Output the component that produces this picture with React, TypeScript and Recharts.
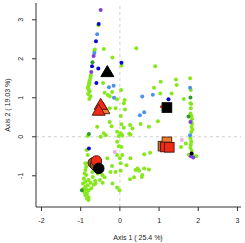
import React from 'react';
import { ScatterChart, Scatter, XAxis, YAxis, ReferenceLine } from 'recharts';

type P = { x: number; y: number };
const pts = (a: number[][]): P[] => a.map(([x, y]) => ({ x, y }));

const greenPts = pts([
  [-0.55, 2.86], [-0.64, 2.24], [-0.65, 2.2], [-0.41, 2.25], [-0.19, 2.03], [0.42, 2.27], [0.04, 1.83],
  [-0.74, 1.58], [-0.75, 1.52], [-0.77, 1.45], [-0.78, 1.4], [-0.79, 1.35], [-0.8, 1.3], [-0.82, 1.25],
  [-0.79, 1.2], [-0.77, 1.16], [-0.81, 1.1], [-0.75, 1.04], [-0.78, 0.97],
  [-0.43, 1.38], [-0.39, 1.13], [-0.2, 1.15], [0.03, 1.2], [-0.31, 1.07], [-0.26, 1.04], [-0.07, 0.96],
  [0.12, 0.94], [0.1, 0.86], [0.13, 0.7], [-0.11, 0.73], [-0.26, 0.73], [0.02, 0.53], [-0.63, 0.62],
  [-0.58, 0.26], [-0.26, 0.38], [-0.21, 0.27], [0.04, 0.32], [0.1, 0.23], [0.26, 0.3], [0.32, 0.21],
  [0.53, 0.33], [0.74, 0.26], [0.97, 0.4],
  [-0.82, 0.02], [-0.41, 0.09], [-0.36, 0.04], [-0.49, 0.0], [-0.07, 0.13], [0.02, 0.09], [-0.03, 0.02],
  [0.06, 0.03], [0.24, 0.08], [0.27, 0.05], [-0.07, -0.13], [-0.03, -0.24], [0.04, -0.26],
  [-0.07, -0.47], [0.06, -0.47], [0.0, -0.55], [-0.32, -0.55], [-0.2, -0.75], [0.02, -0.68], [0.17, -0.73],
  [0.27, -0.55], [-0.24, -0.9], [-0.11, -0.9], [0.02, -0.87],
  [-0.45, -0.98], [-0.39, -1.04], [-0.51, -1.11], [-0.44, -1.18], [-0.19, -1.2], [-0.07, -1.3], [-0.01, -1.37],
  [0.45, -0.81], [0.49, -0.87], [0.4, -0.85], [0.57, -0.98], [0.62, -0.81], [0.74, -0.84], [0.26, -1.09],
  [0.36, -1.04], [0.56, -1.03], [0.77, -0.41], [0.62, -0.45],
  [0.9, 1.81], [1.04, 1.41], [1.43, 1.47], [1.45, 1.33], [0.87, 1.26], [1.03, 1.11], [1.32, 1.11],
  [1.63, 0.97], [1.79, 1.5], [1.81, 1.2],
  [1.8, 0.86], [1.82, 0.84], [1.81, 0.73], [1.8, 0.6], [1.83, 0.53], [1.84, 0.45], [1.82, 0.4],
  [1.84, 0.33], [1.83, 0.25], [1.85, 0.18], [1.82, 0.12], [1.8, -0.04], [1.82, -0.12], [1.81, -0.2],
  [1.8, -0.28], [1.83, -0.36], [1.76, -0.46], [1.86, -0.47], [1.95, -0.5], [1.56, -0.26], [1.68, -0.17],
  [-0.85, -0.34], [-0.82, -0.47],
  [-0.88, -0.68], [-0.86, -0.77], [-0.88, -0.85], [-0.9, -0.94], [-0.86, -0.98], [-0.92, -1.07],
  [-0.88, -1.15], [-0.8, -1.11], [-0.94, -1.2], [-0.82, -1.24], [-0.88, -1.28], [-0.92, -1.33],
  [-0.85, -1.35], [-0.8, -1.38], [-0.9, -1.42], [-0.84, -1.46], [-0.88, -1.5], [-0.8, -1.55],
  [-0.84, -1.58], [-0.8, -1.62], [-0.73, -1.32], [-0.67, -1.23], [-0.75, -1.18], [-0.63, -1.13],
  [-0.69, -1.03], [-0.57, -0.94], [-0.62, -1.2], [-0.7, -0.9],
]);
const darkGreenPts = pts([[-0.7, 1.91], [-0.79, 0.07], [-0.97, -1.37], [1.8, 1.01], [1.75, 0.52]]);
const lightBluePts = pts([
  [-0.58, 2.63], [-0.65, 2.15], [-0.28, 1.27], [-0.16, 1.31], [-0.15, 1.0], [0.57, 1.03], [0.84, 1.08],
  [0.62, 0.63], [0.51, 0.55], [1.79, 1.26], [1.79, 0.04],
]);
const bluePts = pts([
  [-0.54, 2.89], [-0.61, 2.45], [-0.71, 1.81], [-0.55, 1.75], [0.04, 1.9], [-0.6, 1.38], [1.24, 0.96], [-0.79, -0.3],
]);
const purplePts = pts([[-0.49, 3.25], [-0.67, 2.07], [-0.73, 1.66], [1.8, 0.38], [1.81, -0.5], [1.87, -0.53]]);
const pinkPts = pts([[-0.13, -0.39], [1.58, -0.08]]);
const blackSmallPts = pts([[1.83, -0.43]]);
const redSmallPts = pts([[1.06, 0.77]]);

const orangeTriPts = pts([[-0.42, 0.7]]);
const redTriPts = pts([[-0.49, 0.81], [-0.54, 0.66]]);
const blackTriPts = pts([[-0.32, 1.65]]);
const tanSqPts = pts([[1.1, -0.24]]);
const orangeSqPts = pts([[1.2, -0.13]]);
const redSqPts = pts([[1.16, -0.26], [1.26, -0.27]]);
const blackSqPts = pts([[1.2, 0.75]]);
const brownCirPts = pts([[-0.68, -0.67], [-0.62, -0.73]]);
const redCirPts = pts([[-0.6, -0.62]]);
const blackCirPts = pts([[-0.54, -0.81]]);

const xTicks = [-2, -1, 0, 1, 2, 3];
const yTicks = [-1, 0, 1, 2, 3];
const xTitle = 'Axis 1 ( 25.4 %)';
const yTitle = 'Axis 2 ( 19.03 %)';

const FONT = '"Liberation Sans", Arial, sans-serif';

const dot = (color: string, r = 2) => (p: any) => <circle cx={p.cx} cy={p.cy} r={r} fill={color} />;
const tri = (fill: string, stroke: string) => (p: any) => {
  const w = 6.5, h = 11;
  return (
    <polygon
      points={`${p.cx},${p.cy - h * 0.62} ${p.cx - w},${p.cy + h * 0.38} ${p.cx + w},${p.cy + h * 0.38}`}
      fill={fill} stroke={stroke} strokeWidth={1}
    />
  );
};
const sq = (fill: string, stroke: string) => (p: any) => (
  <rect x={p.cx - 4.8} y={p.cy - 4.8} width={9.6} height={9.6} fill={fill} stroke={stroke} strokeWidth={1} />
);
const cir = (fill: string, stroke: string) => (p: any) => (
  <circle cx={p.cx} cy={p.cy} r={5.3} fill={fill} stroke={stroke} strokeWidth={1} />
);

const XTick = (p: any) => (
  <text x={p.x} y={220} textAnchor="middle" dominantBaseline="central" fontSize={7} fontFamily={FONT} fill="#222">
    {p.payload.value < 0 ? '-' + Math.abs(p.payload.value) : p.payload.value}
  </text>
);
const YTick = (p: any) => (
  <text x={21} y={p.y} textAnchor="middle" dominantBaseline="central" fontSize={7} fontFamily={FONT} fill="#222"
    transform={`rotate(-90, 21, ${p.y})`}>
    {p.payload.value < 0 ? '-' + Math.abs(p.payload.value) : p.payload.value}
  </text>
);

export default function App() {
  const series: [P[], any][] = [
    [greenPts, dot('#86E81C')],
    [darkGreenPts, dot('#2E9B2E')],
    [lightBluePts, dot('#4E92E6')],
    [bluePts, dot('#0A0ACF')],
    [purplePts, dot('#7F40E0')],
    [pinkPts, dot('#F4A8E8')],
    [blackSmallPts, dot('#000000')],
    [redSmallPts, dot('#E03020', 1.5)],
    [orangeTriPts, tri('#F07A30', '#5A2A10')],
    [redTriPts, tri('#F02A14', '#5A1A10')],
    [blackTriPts, tri('#000000', '#000000')],
    [tanSqPts, sq('#B07838', '#4A3010')],
    [orangeSqPts, sq('#F07A30', '#5A2A10')],
    [redSqPts, sq('#F02A14', '#5A1A10')],
    [blackSqPts, sq('#000000', '#000000')],
    [brownCirPts, cir('#8E5A2A', '#3A2010')],
    [redCirPts, cir('#F02A14', '#5A1A10')],
    [blackCirPts, cir('#000000', '#000000')],
  ];
  return (
    <div style={{ position: 'absolute', left: 0, top: 0, width: 245, height: 243, background: '#fff' }}>
      <ScatterChart width={245} height={243} margin={{ top: 3, right: 4, bottom: 0, left: 0 }}>
        <XAxis
          type="number" dataKey="x" domain={[-2.14, 3.09]} ticks={xTicks} allowDataOverflow
          height={36} tickSize={4} tick={<XTick />} stroke="#333"
          tickLine={{ stroke: '#333' }} axisLine={{ stroke: '#333' }}
        />
        <YAxis
          type="number" dataKey="y" domain={[-1.8, 3.43]} ticks={yTicks} allowDataOverflow
          width={36} tickSize={4} tick={<YTick />} stroke="#333"
          tickLine={{ stroke: '#333' }} axisLine={{ stroke: '#333' }}
        />
        <ReferenceLine x={0} stroke="#CFCFCF" strokeDasharray="3 3" />
        <ReferenceLine y={0} stroke="#CFCFCF" strokeDasharray="3 3" />
        {series.map(([d, s], i) => (
          <Scatter key={i} data={d} shape={s} isAnimationActive={false} />
        ))}
      </ScatterChart>
      <div style={{ position: 'absolute', left: 0, top: 0, pointerEvents: 'none' }}>
        <svg width={245} height={243}>
          <text x={138} y={237} textAnchor="middle" dominantBaseline="central" fontSize={7} fontFamily={FONT} fill="#222">
            {xTitle}
          </text>
          <text x={7} y={105} textAnchor="middle" dominantBaseline="central" fontSize={7} fontFamily={FONT} fill="#222"
            transform="rotate(-90, 7, 105)">
            {yTitle}
          </text>
        </svg>
      </div>
    </div>
  );
}
